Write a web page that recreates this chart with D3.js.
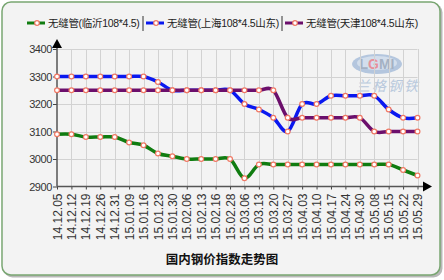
<!DOCTYPE html>
<html>
<head>
<meta charset="utf-8">
<script src="https://cdn.jsdelivr.net/npm/d3@7/dist/d3.min.js"></script>
<style>
  html, body { margin: 0; padding: 0; background: #fff; }
  svg { display: block; font-family: "Liberation Sans", Arial, "Noto Sans CJK SC", sans-serif; }
</style>
</head>
<body>
<svg id="chart" width="444" height="280"></svg>
<script>
// weekly quotes
var dates = ["14.12.05", "14.12.12", "14.12.19", "14.12.26", "14.12.31", "15.01.09", "15.01.16",
  "15.01.23", "15.01.30", "15.02.06", "15.02.13", "15.02.16", "15.02.28", "15.03.06", "15.03.13",
  "15.03.20", "15.03.27", "15.04.03", "15.04.10", "15.04.17", "15.04.24", "15.04.30", "15.05.08",
  "15.05.15", "15.05.22", "15.05.29"];

var linyi = [3090, 3090, 3080, 3080, 3080, 3060, 3050, 3020, 3010, 3000, 3000, 3000, 3000,
  2930, 2980, 2980, 2980, 2980, 2980, 2980, 2980, 2980, 2980, 2980, 2960, 2940];
var shanghai = [3300, 3300, 3300, 3300, 3300, 3300, 3300, 3280, 3250, 3250, 3250, 3250, 3250,
  3200, 3180, 3150, 3100, 3200, 3200, 3230, 3230, 3230, 3230, 3180, 3150, 3150];
var tianjin = [3250, 3250, 3250, 3250, 3250, 3250, 3250, 3250, 3250, 3250, 3250, 3250, 3250,
  3250, 3250, 3250, 3150, 3150, 3150, 3150, 3150, 3150, 3100, 3100, 3100, 3100];

var yTicks = [2900, 3000, 3100, 3200, 3300, 3400];
var seriesNames = ["无缝管(临沂108*4.5)", "无缝管(上海108*4.5山东)", "无缝管(天津108*4.5山东)"];
var title = "国内钢价指数走势图";

var series = [
  { name: seriesNames[0], values: linyi, color: "#107c10" },
  { name: seriesNames[1], values: shanghai, color: "#0a18f0" },
  { name: seriesNames[2], values: tianjin, color: "#6c0f6c" }
];

var svg = d3.select("#chart");

// panel frame
svg.append("rect")
  .attr("x", 3.5).attr("y", 3.5).attr("width", 439).attr("height", 274).attr("rx", 9)
  .attr("fill", "#b8b8b8");
svg.append("rect")
  .attr("x", 2).attr("y", 2).attr("width", 438).attr("height", 273).attr("rx", 9)
  .attr("fill", "#f3f3f3").attr("stroke", "#79a672").attr("stroke-width", 1.5);

var x = d3.scalePoint().domain(dates).range([57, 417.5]);
var y = d3.scaleLinear().domain([2900, 3400]).range([186.5, 49]);

// watermark
var wm = svg.append("g").attr("opacity", 0.75);
wm.append("ellipse").attr("cx", 377).attr("cy", 64).attr("rx", 25).attr("ry", 10)
  .attr("fill", "#9fb8d8");
wm.append("ellipse").attr("cx", 377).attr("cy", 63).attr("rx", 20).attr("ry", 7)
  .attr("fill", "#c9d7ea");
var wmText = wm.append("text").attr("x", 377).attr("y", 68.5).attr("text-anchor", "middle")
  .attr("font-size", 14).attr("font-weight", "bold").attr("fill", "#8a9cb4");
wmText.append("tspan").text("L");
wmText.append("tspan").attr("fill", "#e4707e").text("G");
wmText.append("tspan").text("MI");
wm.append("text").attr("x", 388).attr("y", 91).attr("text-anchor", "middle")
  .attr("font-size", 14).attr("font-style", "italic").attr("fill", "#a6bcd6")
  .attr("letter-spacing", 2).text("兰格钢铁");

// grid
var grid = svg.append("g").attr("stroke", "#d2d2d2").attr("stroke-width", 1);
grid.selectAll(".h").data(yTicks.slice(1)).enter().append("line")
  .attr("x1", x.range()[0]).attr("x2", x.range()[1])
  .attr("y1", function(d) { return Math.round(y(d)) + 0.5; })
  .attr("y2", function(d) { return Math.round(y(d)) + 0.5; });
grid.selectAll(".v").data(dates.slice(1)).enter().append("line")
  .attr("x1", function(d) { return Math.round(x(d)) + 0.5; })
  .attr("x2", function(d) { return Math.round(x(d)) + 0.5; })
  .attr("y1", y(3400)).attr("y2", y(2900));

// axes
var xAxis = svg.append("g").attr("transform", "translate(0," + y(2900) + ")")
  .call(d3.axisBottom(x).tickSize(3).tickPadding(4));
xAxis.select(".domain").remove();
xAxis.selectAll(".tick line").attr("stroke", "#444");
xAxis.selectAll(".tick text")
  .attr("font-size", 12).attr("fill", "#333")
  .attr("transform", "rotate(-90)")
  .attr("text-anchor", "end").attr("x", -7).attr("y", 0).attr("dy", "0.34em");

var yAxis = svg.append("g").attr("transform", "translate(" + x.range()[0] + ",0)")
  .call(d3.axisLeft(y).tickValues(yTicks).tickSize(4).tickPadding(1).tickFormat(d3.format("d")));
yAxis.select(".domain").remove();
yAxis.selectAll(".tick line").attr("stroke", "#444");
yAxis.selectAll(".tick text").attr("font-size", 11).attr("fill", "#333").attr("letter-spacing", -0.4);

var ax = svg.append("g");
ax.append("line").attr("x1", 57).attr("x2", 425).attr("y1", y(2900)).attr("y2", y(2900))
  .attr("stroke", "#555").attr("stroke-width", 1.5);
ax.append("line").attr("x1", 57).attr("x2", 57).attr("y1", y(2900)).attr("y2", 45)
  .attr("stroke", "#555").attr("stroke-width", 1.5);
ax.append("path").attr("d", "M423," + (y(2900) - 5) + "L432," + y(2900) + "L423," + (y(2900) + 5) + "Z")
  .attr("fill", "#000");
ax.append("path").attr("d", "M52,48L57,39L62,48Z").attr("fill", "#000");

// lines
var line = d3.line()
  .x(function(d, i) { return x(dates[i]); })
  .y(function(d) { return y(d); })
  .curve(d3.curveCardinal);

var sg = svg.selectAll(".series").data(series).enter().append("g");
sg.append("path")
  .attr("d", function(s) { return line(s.values); })
  .attr("fill", "none").attr("stroke", function(s) { return s.color; })
  .attr("stroke-width", 3.5).attr("stroke-linejoin", "round");
sg.selectAll("circle").data(function(s) { return s.values; }).enter().append("circle")
  .attr("cx", function(d, i) { return x(dates[i]); })
  .attr("cy", function(d) { return y(d); })
  .attr("r", 2.4).attr("fill", "#fff").attr("stroke", "#f07864").attr("stroke-width", 1.2);

// legend
var legendX = [27, 146, 285];
var lg = svg.selectAll(".legend").data(series).enter().append("g")
  .attr("transform", function(s, i) { return "translate(" + legendX[i] + ",23)"; });
lg.append("line").attr("x1", 0).attr("x2", 18).attr("y1", 0).attr("y2", 0)
  .attr("stroke", function(s) { return s.color; }).attr("stroke-width", 3);
lg.append("circle").attr("cx", 10).attr("cy", 0).attr("r", 2.3)
  .attr("fill", "#fff").attr("stroke", "#f07864").attr("stroke-width", 1.2);
lg.append("text").attr("x", 21).attr("y", 0).attr("dy", "0.35em")
  .attr("font-size", 10.5).attr("fill", "#222").attr("letter-spacing", -0.3)
  .text(function(s) { return s.name; });
svg.selectAll(".sep").data([143, 282]).enter().append("line")
  .attr("x1", function(d) { return d; }).attr("x2", function(d) { return d; })
  .attr("y1", 16).attr("y2", 31).attr("stroke", "#333").attr("stroke-width", 1);

// title
svg.append("text").attr("x", 222).attr("y", 264).attr("text-anchor", "middle")
  .attr("font-size", 12.5).attr("font-weight", "bold").attr("fill", "#111")
  .attr("font-family", "'Noto Sans CJK SC', sans-serif").text(title);
</script>
</body>
</html>
